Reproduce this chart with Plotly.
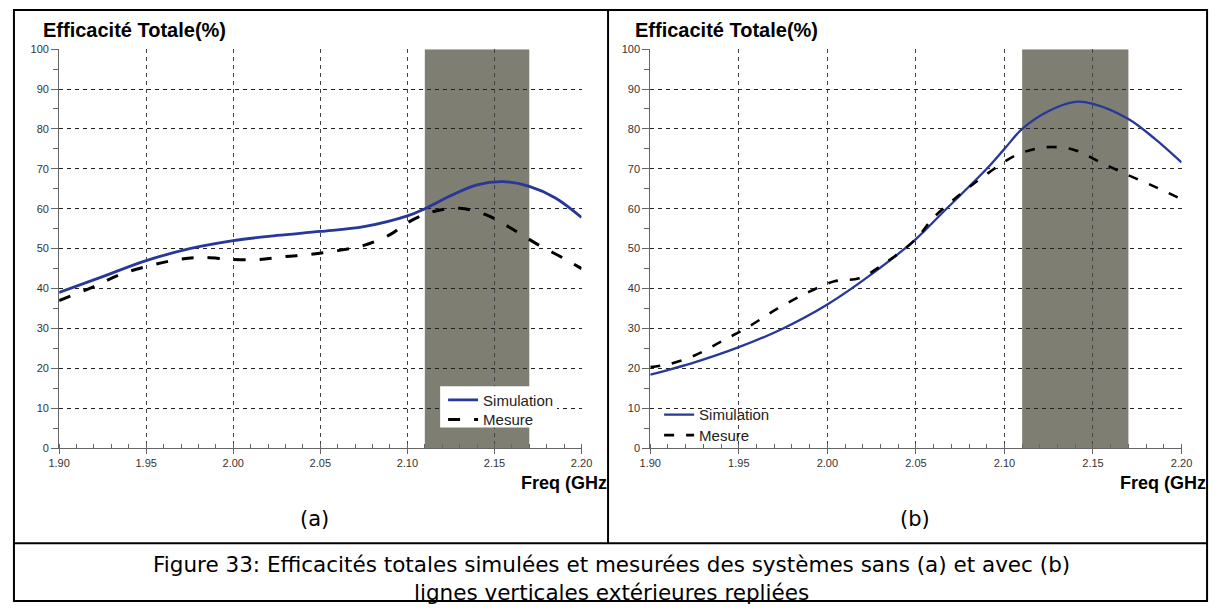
import plotly.graph_objects as go

# ---------------- data ----------------
freq_sim_a = [1.90, 1.925, 1.95, 1.975, 2.00, 2.025, 2.05, 2.075, 2.10, 2.11, 2.125, 2.14, 2.155, 2.17, 2.185, 2.20]
eff_sim_a = [39.0, 43.0, 47.0, 50.0, 52.0, 53.3, 54.3, 55.5, 58.2, 60.0, 63.3, 66.0, 66.8, 65.6, 62.7, 57.8]

freq_mes_a = [1.90, 1.92, 1.935, 1.95, 1.965, 1.98, 2.00, 2.015, 2.03, 2.045, 2.06, 2.075, 2.09, 2.10,
              2.115, 2.13, 2.145, 2.16, 2.175, 2.19, 2.20]
eff_mes_a = [37.0, 40.5, 43.5, 45.5, 47.0, 47.8, 47.3, 47.3, 48.0, 48.6, 49.5, 50.8, 53.5, 56.5,
             59.3, 60.1, 58.5, 55.0, 51.0, 47.5, 45.0]

freq_sim_b = [1.90, 1.925, 1.95, 1.975, 2.00, 2.025, 2.05, 2.065, 2.09, 2.10, 2.11, 2.125, 2.14, 2.15, 2.17, 2.185, 2.20]
eff_sim_b = [18.4, 21.5, 25.3, 30.0, 36.0, 43.6, 52.4, 59.0, 70.0, 75.0, 80.0, 84.5, 86.8, 86.3, 82.5, 77.5, 71.6]

freq_mes_b = [1.90, 1.91, 1.925, 1.94, 1.955, 1.972, 1.988, 2.004, 2.018, 2.033, 2.05, 2.06, 2.075, 2.091,
              2.107, 2.123, 2.139, 2.153, 2.169, 2.186, 2.20]
eff_mes_b = [20.3, 21.0, 23.2, 26.7, 30.3, 35.0, 38.8, 41.8, 42.6, 46.5, 52.4, 57.8, 63.6, 69.0,
             73.5, 75.4, 74.8, 71.9, 68.6, 65.3, 62.4]

band = [2.11, 2.17]
x_ticks = [1.90, 1.95, 2.00, 2.05, 2.10, 2.15, 2.20]
x_ticklabels = ["1.90", "1.95", "2.00", "2.05", "2.10", "2.15", "2.20"]
y_ticks = [0, 10, 20, 30, 40, 50, 60, 70, 80, 90, 100]

series_names = ["Simulation", "Mesure"]
panel_title = "Efficacité Totale(%)"
x_title = "Freq (GHz"
panel_labels = ["(a)", "(b)"]
caption = ["Figure 33: Efficacités totales simulées et mesurées des systèmes sans (a) et avec (b)",
           "lignes verticales extérieures repliées"]

# ---------------- figure ----------------
W, H = 1222, 610
def px(x):
    return x / W
def py(y):
    return 1 - y / H

BLUE = "#27379A"
BAND = "#7F7E72"
SANS = "Liberation Sans, Arial, sans-serif"
CAPFONT = "DejaVu Sans, sans-serif"

fig = go.Figure()

fig.add_trace(go.Scatter(x=freq_sim_a, y=eff_sim_a, name=series_names[0], mode="lines",
                         line=dict(color=BLUE, width=2.8, shape="spline"),
                         xaxis="x", yaxis="y", legend="legend"))
fig.add_trace(go.Scatter(x=freq_mes_a, y=eff_mes_a, name=series_names[1], mode="lines",
                         line=dict(color="black", width=3, dash="12px,14px", shape="spline"),
                         xaxis="x", yaxis="y", legend="legend2"))
fig.add_trace(go.Scatter(x=freq_sim_b, y=eff_sim_b, name=series_names[0], mode="lines",
                         line=dict(color=BLUE, width=2.3, shape="spline"),
                         xaxis="x2", yaxis="y2", legend="legend3"))
fig.add_trace(go.Scatter(x=freq_mes_b, y=eff_mes_b, name=series_names[1], mode="lines",
                         line=dict(color="black", width=2.6, dash="10px,12px", shape="spline"),
                         xaxis="x2", yaxis="y2", legend="legend4"))

tickfont = dict(family=SANS, size=11, color="#333")

def xaxis_cfg(domain, anchor):
    return dict(domain=domain, anchor=anchor, range=[1.90, 2.20], tickvals=x_ticks, ticktext=x_ticklabels,
                showline=True, linecolor="#666", linewidth=1, ticks="outside", ticklen=5, tickcolor="#666",
                minor=dict(dtick=0.01, tick0=1.90, ticks="inside", ticklen=4, tickcolor="#666", showgrid=False),
                showgrid=True, gridcolor="#444", griddash="4px,4px", gridwidth=1,
                zeroline=False, tickfont=tickfont, fixedrange=True)

def yaxis_cfg(domain, anchor):
    return dict(domain=domain, anchor=anchor, range=[0, 100], tickvals=y_ticks,
                showline=True, linecolor="#666", linewidth=1, ticks="outside", ticklen=7, tickcolor="#666",
                minor=dict(dtick=5, tick0=0, ticks="outside", ticklen=5, tickcolor="#666", showgrid=False),
                showgrid=True, gridcolor="#222", griddash="4px,4px", gridwidth=1,
                zeroline=False, tickfont=tickfont, fixedrange=True)

def legend_cfg(x, y):
    return dict(x=px(x), y=py(y), xanchor="left", yanchor="middle", bgcolor="rgba(0,0,0,0)",
                font=dict(family=SANS, size=15, color="#222"), borderwidth=0)

ydom = [py(451), py(44)]
fig.update_layout(
    width=W, height=H,
    margin=dict(l=0, r=0, t=0, b=0),
    paper_bgcolor="white", plot_bgcolor="rgba(0,0,0,0)",
    xaxis=xaxis_cfg([px(49), px(581)], "y"),
    yaxis=yaxis_cfg(ydom, "x"),
    xaxis2=xaxis_cfg([px(651), px(1192)], "y2"),
    yaxis2=yaxis_cfg(ydom, "x2"),
    legend=legend_cfg(440, 402),
    legend2=legend_cfg(440, 422),
    legend3=legend_cfg(660, 417),
    legend4=legend_cfg(660, 438),
    showlegend=True,
)

# highlighted bands (data coordinates)
for xr, yr in (("x", "y"), ("x2", "y2")):
    fig.add_shape(type="rect", xref=xr, yref=yr, x0=band[0], x1=band[1], y0=0, y1=100,
                  fillcolor=BAND, line=dict(width=0), layer="below")

# white box behind legend (a)
fig.add_shape(type="rect", xref="paper", yref="paper", x0=px(437), x1=px(556), y0=py(430), y1=py(388),
              fillcolor="white", line=dict(width=0), layer="above")

# frame lines
frame = dict(color="black", width=2)
fig.add_shape(type="rect", xref="paper", yref="paper", x0=px(3), x1=px(1218), y0=py(607), y1=py(4),
              line=frame, fillcolor="rgba(0,0,0,0)")
fig.add_shape(type="line", xref="paper", yref="paper", x0=px(608), x1=px(608), y0=py(548), y1=py(4), line=frame)
fig.add_shape(type="line", xref="paper", yref="paper", x0=px(3), x1=px(1218), y0=py(548), y1=py(548), line=frame)

# texts
for x0 in (31, 633):
    fig.add_annotation(text="<b>" + panel_title + "</b>", xref="paper", yref="paper", x=px(x0), y=py(24),
                       xanchor="left", yanchor="middle", showarrow=False,
                       font=dict(family=SANS, size=20, color="black"))
for x1 in (609, 1219):
    fig.add_annotation(text="<b>" + x_title + "</b>", xref="paper", yref="paper", x=px(x1), y=py(487),
                       xanchor="right", yanchor="middle", showarrow=False,
                       font=dict(family=SANS, size=18, color="black"))
for lbl, xc in zip(panel_labels, (309, 921)):
    fig.add_annotation(text=lbl, xref="paper", yref="paper", x=px(xc), y=py(523),
                       xanchor="center", yanchor="middle", showarrow=False,
                       font=dict(family=CAPFONT, size=21, color="black"))
fig.add_annotation(text="<br>".join(caption), xref="paper", yref="paper", x=0.5, y=py(584),
                   xanchor="center", yanchor="middle", showarrow=False, align="center", borderpad=0,
                   font=dict(family=CAPFONT, size=21.5, color="black"))

fig.write_html("out.html", config={"displayModeBar": False},
               post_script="document.body.style.margin='0';document.body.style.overflow='hidden';")
